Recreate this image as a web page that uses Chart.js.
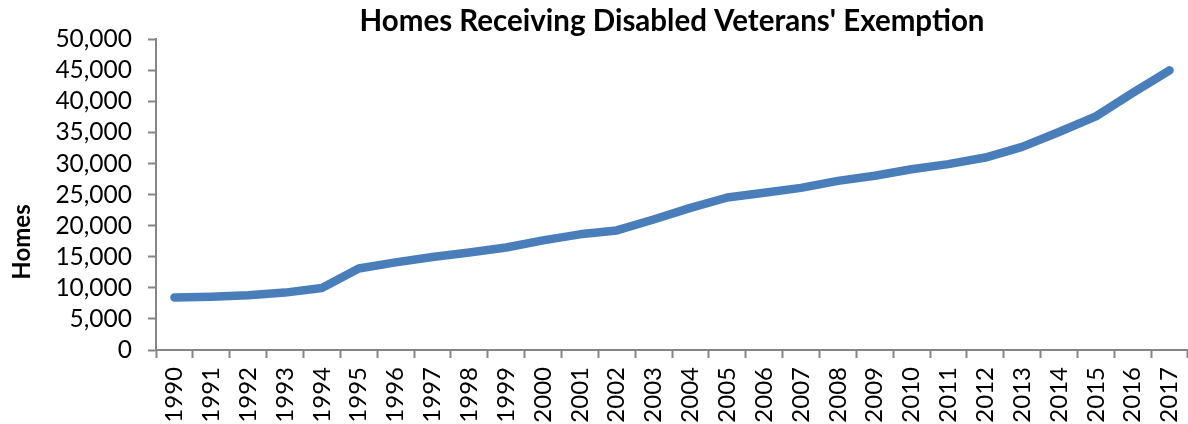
<!DOCTYPE html>
<html>
<head>
<meta charset="utf-8">
<script src="https://cdn.jsdelivr.net/npm/chart.js@4/dist/chart.umd.min.js"></script>
<style>
  html, body { margin: 0; padding: 0; background: #fff; }
  #wrap { width: 1188px; height: 424px; }
</style>
</head>
<body>
<div id="wrap"><canvas id="canvas"></canvas></div>
<script>
const years = ['1990', '1991', '1992', '1993', '1994', '1995', '1996', '1997', '1998', '1999',
    '2000', '2001', '2002', '2003', '2004', '2005', '2006', '2007', '2008', '2009',
    '2010', '2011', '2012', '2013', '2014', '2015', '2016', '2017'];
const homes = [8470, 8570, 8800, 9240, 9990, 13130, 14100, 14980, 15700, 16500,
    17650, 18620, 19250, 21000, 22880, 24550, 25300, 26100, 27220, 28050,
    29100, 29920, 30980, 32700, 35100, 37620, 41380, 45020];
const yTicks = [0, 5000, 10000, 15000, 20000, 25000, 30000, 35000, 40000, 45000, 50000];
const yTitle = 'Homes';

const axisGrey = '#868686';
const font = 'Lato';

// y axis title, placed where the original puts it (a bit below the middle)
const yTitlePlugin = {
    id: 'yTitle',
    afterDraw(chart) {
        const ctx = chart.ctx;
        ctx.save();
        ctx.translate(22, 242);
        ctx.rotate(-Math.PI / 2);
        ctx.font = 'bold 24px ' + font;
        ctx.fillStyle = '#000';
        ctx.textAlign = 'center';
        ctx.textBaseline = 'middle';
        ctx.fillText(yTitle, 0, 0);
        ctx.restore();
    },
};

new Chart('canvas', {
    type: 'line',
    data: {
        labels: years,
        datasets: [
            {
                data: homes,
                borderColor: '#4a7ebb',
                borderWidth: 8.5,
                borderCapStyle: 'round',
                borderJoinStyle: 'round',
                pointRadius: 0,
                tension: 0,
            },
        ],
    },
    plugins: [yTitlePlugin],
    options: {
        responsive: true,
        maintainAspectRatio: false,
        animation: false,
        layout: { padding: { left: 0, right: 0, top: 0, bottom: 0 } },
        plugins: {
            legend: { display: false },
            tooltip: { enabled: false },
            title: {
                display: true,
                fullSize: false,
                text: "Homes Receiving Disabled Veterans' Exemption",
                color: '#000',
                font: { family: font, size: 29.5, weight: 'bold' },
                padding: { top: 4, bottom: 0 },
            },
        },
        scales: {
            x: {
                offset: true,
                grid: { display: true, offset: true, drawOnChartArea: false, color: axisGrey, tickLength: 8, tickWidth: 2 },
                border: { color: axisGrey, width: 2 },
                ticks: {
                    color: '#000',
                    font: { family: font, size: 24 },
                    minRotation: 90,
                    maxRotation: 90,
                    autoSkip: false,
                    padding: 9,
                },
                afterFit: (scale) => {
                    scale.height = 74;
                    scale.paddingLeft = 0;
                    scale.paddingRight = 0;
                },
            },
            y: {
                min: 0,
                max: 50000,
                afterBuildTicks: (scale) => { scale.ticks = yTicks.map((v) => ({ value: v })); },
                grid: { display: true, drawOnChartArea: false, color: axisGrey, tickLength: 8, tickWidth: 2 },
                border: { color: axisGrey, width: 2 },
                ticks: {
                    color: '#000',
                    font: { family: font, size: 24.5 },
                    padding: 16,
                    autoSkip: false,
                    callback: (v) => Number(v).toLocaleString('en-US'),
                },
                afterFit: (scale) => { scale.width = 156; },
            },
        },
    },
});
</script>
</body>
</html>
